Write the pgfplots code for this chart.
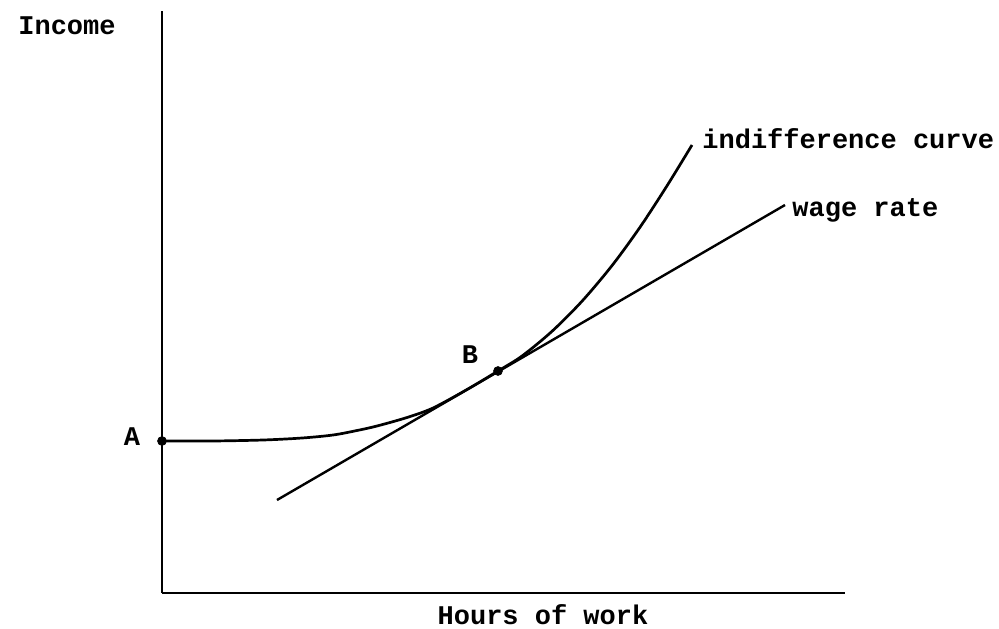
\documentclass[border=0pt]{standalone}
\usepackage{fontspec}
\setmainfont{Liberation Mono}
\usepackage{pgfplots}
\pgfplotsset{compat=1.18}
\newcommand{\lbl}{\fontsize{13.5}{16}\selectfont\bfseries}
\begin{document}
\begin{tikzpicture}
\path[use as bounding box] (-81pt,-17.5pt) rectangle (418.5pt,296.5pt);
\begin{axis}[
  at={(0pt,0pt)}, anchor=south west,
  scale only axis, x=0.5pt, y=0.5pt,
  xmin=0, xmax=683, ymin=0, ymax=582,
  axis lines=left, axis line style={-, line width=1.3pt},
  xtick=\empty, ytick=\empty,
  clip=false,
]
% indifference curve
\addplot[black, line width=1.35pt, smooth] coordinates {
(0,152) (50,152) (101,153) (140,155) (171,158) (195,162.5) (215,167)
(245,175.5) (271,185) (305,203.5) (336,222)
(360,237) (390,261.7) (420,291.8) (450,327.4) (478,365.8) (505,407.2) (530,448)
};
% wage rate
\addplot[black, line width=1.2pt] coordinates {(115,93) (623,388)};
% points A and B
\addplot[only marks, mark=*, mark size=2.2pt, black] coordinates {(0,152) (336,222)};
\node[font=\lbl] at (axis cs:-95,567) {Income};
\node[font=\lbl] at (axis cs:381,-22) {Hours of work};
\node[font=\lbl] at (axis cs:-30,156) {A};
\node[font=\lbl] at (axis cs:308,238) {B};
\node[font=\lbl, anchor=base west, inner sep=0pt] at (axis cs:540,445) {indifference curve};
\node[font=\lbl, anchor=base west, inner sep=0pt] at (axis cs:630,377) {wage rate};
\end{axis}
\end{tikzpicture}
\end{document}
